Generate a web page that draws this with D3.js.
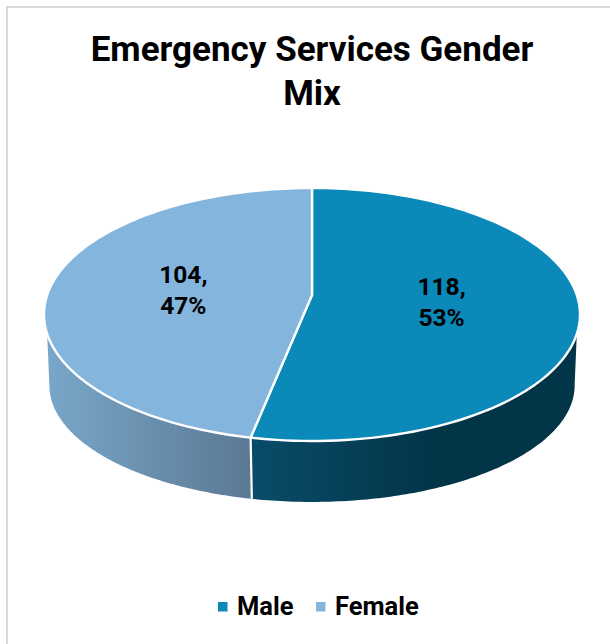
<!DOCTYPE html>
<html><head><meta charset="utf-8">
<script src="https://cdn.jsdelivr.net/npm/d3@7"></script>
<style>html,body{margin:0;padding:0;background:#fff}svg{display:block}text{font-family:Roboto,sans-serif;font-weight:700;fill:#000}</style>
</head><body><svg id="c" width="610" height="644"></svg>
<script>
const categories = ["Male", "Female"];
const values = [118, 104];
const percentLabels = ["53%", "47%"];
const topColors = ["#0b89b9", "#83b5dd"];
const wallStops = [["#094c69", "#033548"], ["#78a6c8", "#5b7994"]];
const titleLines = ["Emergency Services Gender", "Mix"];

const svg = d3.select("#c");
svg.append("path").attr("d", "M7,644V7H610").attr("fill", "none").attr("stroke", "#d9d9d9").attr("stroke-width", 2);

svg.selectAll("text.title").data(titleLines).join("text").attr("class", "title")
  .attr("x", 312).attr("y", (d, i) => 61 + i * 44).attr("text-anchor", "middle")
  .attr("font-size", 35).text(d => d);

// Tilted disc with perspective: apex sits above the ellipse centre
const k = 0.154, rx = 264.8, ry = 123.5, cx = 312, cy = 295;
function project(a, r = 1, sx = 1, sy = 1, dy = 0) {
  const u = Math.sin(a) * r, v = -Math.cos(a) * r, w = 1 - k * v;
  return [cx + sx * rx * u / w, cy + dy + sy * ry * v / w];
}
const arcs = d3.pie().sort(null)(values);
const line = d3.line();
const samples = (a0, a1) => d3.range(0, 121).map(i => a0 + (a1 - a0) * i / 120);

const defs = svg.append("defs");
const wallRange = [[251, 430], [50, 251]];
wallStops.forEach((s, i) => {
  const g = defs.append("linearGradient").attr("id", "w" + i).attr("gradientUnits", "userSpaceOnUse")
    .attr("x1", wallRange[i][0]).attr("x2", wallRange[i][1]).attr("y1", 0).attr("y2", 0);
  g.append("stop").attr("offset", 0).attr("stop-color", s[0]);
  g.append("stop").attr("offset", 1).attr("stop-color", s[1]);
});

// visible walls: rim part that faces the viewer
const sxLow = 0.98, syLow = 0.921, dyLow = 72.5;
const rimLimit = 1.266, lowLimit = 1.42; // radians from the front-centre on either side
arcs.forEach((d, i) => {
  const top = samples(Math.max(d.startAngle, Math.PI - rimLimit), Math.min(d.endAngle, Math.PI + rimLimit))
    .map(a => project(a));
  const low = samples(Math.max(d.startAngle, Math.PI - lowLimit), Math.min(d.endAngle, Math.PI + lowLimit))
    .map(a => project(a, 1, sxLow, syLow, dyLow)).reverse();
  svg.append("path").attr("d", line(top.concat(low)) + "Z").attr("fill", `url(#w${i})`);
});
// white seam between walls
const seam = arcs[0].endAngle;
svg.append("path").attr("d", line([project(seam), project(seam, 1, sxLow, syLow, dyLow)]))
  .attr("stroke", "#fff").attr("stroke-width", 2.2).attr("fill", "none");

// top faces
arcs.forEach((d, i) => {
  const pts = [[cx, cy]].concat(samples(d.startAngle, d.endAngle).map(a => project(a)));
  svg.append("path").attr("d", line(pts) + "Z").attr("fill", topColors[i])
    .attr("stroke", "#fff").attr("stroke-width", 2.4).attr("stroke-linejoin", "round");
});

// data labels
arcs.forEach((d, i) => {
  const p = project((d.startAngle + d.endAngle) / 2, 0.49);
  const t = svg.append("text").attr("text-anchor", "middle").attr("font-size", 24.5);
  t.append("tspan").attr("x", p[0] - 0.5).attr("y", p[1] - 6.5).text(values[i] + ",");
  t.append("tspan").attr("x", p[0] - 0.5).attr("y", p[1] + 25).text(percentLabels[i]);
});

// legend
const legendX = [218, 316];
categories.forEach((c, i) => {
  svg.append("rect").attr("x", legendX[i]).attr("y", 602).attr("width", 9.5).attr("height", 9.5).attr("fill", topColors[i]);
  svg.append("text").attr("x", legendX[i] + 19).attr("y", 615).attr("font-size", 25.5).text(c);
});
</script></body></html>
